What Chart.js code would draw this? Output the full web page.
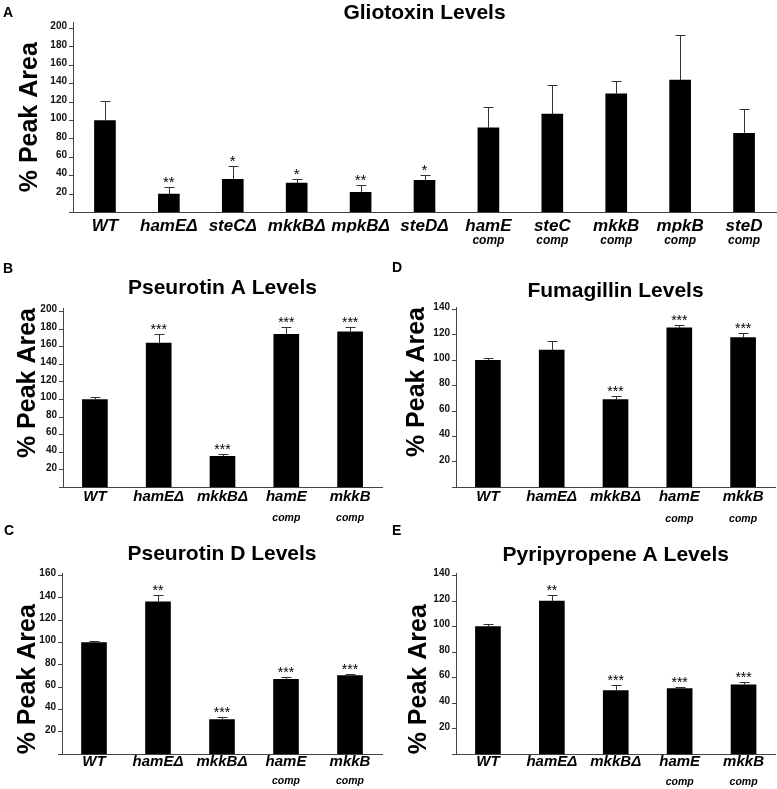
<!DOCTYPE html>
<html>
<head>
<meta charset="utf-8">
<script src="https://cdn.jsdelivr.net/npm/chart.js@4.4.0/dist/chart.umd.min.js"></script>
<style>
  body { margin: 0; background: #fff; width: 777px; height: 789px; position: relative; overflow: hidden; }
  .panel { position: absolute; }
  .tag { position: absolute; font: bold 14px/14px "Liberation Sans", Arial, sans-serif; color: #000; }
</style>
</head>
<body>
<div class="panel" style="left:0;top:0;width:777px;height:250px"><canvas id="chartA"></canvas></div>
<div class="panel" style="left:0;top:250px;width:390px;height:280px"><canvas id="chartB"></canvas></div>
<div class="panel" style="left:390px;top:250px;width:387px;height:280px"><canvas id="chartD"></canvas></div>
<div class="panel" style="left:0;top:520px;width:390px;height:269px"><canvas id="chartC"></canvas></div>
<div class="panel" style="left:390px;top:520px;width:387px;height:269px"><canvas id="chartE"></canvas></div>
<div class="tag" style="left:3px;top:5px">A</div>
<div class="tag" style="left:3px;top:261px">B</div>
<div class="tag" style="left:392px;top:260px">D</div>
<div class="tag" style="left:4px;top:523px">C</div>
<div class="tag" style="left:392px;top:523px">E</div>
<script>
// ---------------- données ----------------
const gliotoxinLabels = ['WT', 'hamEΔ', 'steCΔ', 'mkkBΔ', 'mpkBΔ', 'steDΔ', 'hamE', 'steC', 'mkkB', 'mpkB', 'steD']
const gliotoxinSub = ['', '', '', '', '', '', 'comp', 'comp', 'comp', 'comp', 'comp']
const gliotoxinValues = [100, 20, 36, 32, 22, 35, 92, 107, 129, 144, 86]
const gliotoxinErrors = [21, 8, 15, 4, 8, 6, 23, 32, 14, 49, 26]
const gliotoxinStars = ['', '**', '*', '*', '**', '*', '', '', '', '', '']

const strainLabels = ['WT', 'hamEΔ', 'mkkBΔ', 'hamE', 'mkkB']
const strainSub = ['', '', '', 'comp', 'comp']

const pseurotinAValues = [100, 164, 35.5, 174, 177]
const pseurotinAErrors = [3, 10, 2.7, 8, 5]
const pseurotinAStars = ['', '***', '***', '***', '***']

const fumagillinValues = [100, 108, 69, 125.5, 118]
const fumagillinErrors = [1.5, 7, 3, 2.5, 3.5]
const fumagillinStars = ['', '', '***', '***', '***']

const pseurotinDValues = [100, 136.5, 31, 67, 70.5]
const pseurotinDErrors = [1.8, 6, 2.3, 1.8, 1.8]
const pseurotinDStars = ['', '**', '***', '***', '***']

const pyripyropeneValues = [100, 120, 50, 51.5, 54.5]
const pyripyropeneErrors = [2.4, 4.5, 4.3, 1.1, 2.2]
const pyripyropeneStars = ['', '**', '***', '***', '***']

const FONT = '"Liberation Sans", Arial, Helvetica, sans-serif'
const AXIS_COLOR = '#444'
Chart.defaults.font.family = FONT
Chart.defaults.color = '#000'

// barres d'erreur (côté haut seulement) + astérisques de significativité
const errorBars = {
  id: 'errorBars',
  afterDatasetsDraw(chart, args, opts) {
    const ctx = chart.ctx
    const yScale = chart.scales.y
    const meta = chart.getDatasetMeta(0)
    const values = chart.data.datasets[0].data
    ctx.save()
    ctx.strokeStyle = '#333'
    ctx.lineWidth = 1
    ctx.fillStyle = '#000'
    ctx.font = `${opts.starSize}px ${FONT}`
    ctx.textAlign = 'center'
    ctx.textBaseline = 'alphabetic'
    meta.data.forEach((bar, i) => {
      const x = Math.round(bar.x) + 0.5
      const top = Math.round(yScale.getPixelForValue(values[i] + opts.errors[i])) + 0.5
      ctx.beginPath()
      ctx.moveTo(x, bar.y)
      ctx.lineTo(x, top)
      ctx.moveTo(x - opts.cap, top)
      ctx.lineTo(x + opts.cap, top)
      ctx.stroke()
      if (opts.stars[i]) ctx.fillText(opts.stars[i], bar.x, top - 1)
    })
    ctx.restore()
  }
}

function makeChart(id, spec) {
  const g = spec.geo
  return new Chart(document.getElementById(id), {
    type: 'bar',
    data: {
      labels: spec.labels,
      datasets: [{ data: spec.values, backgroundColor: '#000', barThickness: g.bar }]
    },
    options: {
      responsive: true,
      maintainAspectRatio: false,
      animation: false,
      layout: { padding: { top: g.padTop, left: 0, right: g.padRight, bottom: 0 } },
      plugins: {
        legend: { display: false },
        tooltip: { enabled: false },
        title: {
          display: true,
          text: spec.title,
          fullSize: false,
          color: '#000',
          font: { size: 21, weight: 'bold', lineHeight: 1 },
          padding: { top: 0, bottom: g.titleGap }
        },
        errorBars: { errors: spec.errors, stars: spec.stars, cap: 5, starSize: g.star }
      },
      scales: {
        x: {
          type: 'category',
          offset: true,
          grid: { display: false, drawTicks: false },
          border: { display: true, color: AXIS_COLOR, width: 1 },
          ticks: {
            color: '#000',
            padding: g.labelPad,
            maxRotation: 0,
            autoSkip: false,
            font: { size: g.labelSize, style: 'italic', weight: 'bold', lineHeight: 1 }
          },
          afterFit: s => { s.height = g.labelBox }
        },
        x2: {
          type: 'category',
          axis: 'x',
          position: 'bottom',
          labels: spec.sub,
          offset: true,
          grid: { display: false, drawTicks: false },
          border: { display: false },
          ticks: {
            color: '#000',
            padding: g.subPad,
            maxRotation: 0,
            autoSkip: false,
            font: { size: g.subSize, style: 'italic', weight: 'bold', lineHeight: 1 }
          },
          afterFit: s => { s.height = g.subBox }
        },
        y: {
          min: 0,
          max: spec.max,
          border: { display: true, color: AXIS_COLOR, width: 1 },
          grid: { display: true, drawOnChartArea: false, drawTicks: true, tickLength: 4, color: AXIS_COLOR },
          ticks: {
            stepSize: 20,
            includeBounds: false,
            padding: 2,
            labelOffset: -2,
            color: '#111',
            font: { size: 10, weight: 'bold' },
            callback: v => (v === 0 ? '' : v)
          },
          title: {
            display: true,
            text: '% Peak Area',
            align: g.yAlign,
            color: '#000',
            font: { size: 25, weight: 'bold', lineHeight: 1 },
            padding: { top: g.yTitlePad, bottom: 0 }
          },
          afterFit: s => { s.width = g.yWidth }
        }
      }
    },
    plugins: [errorBars]
  })
}

document.addEventListener('DOMContentLoaded', function () {
  makeChart('chartA', {
    title: 'Gliotoxin Levels', labels: gliotoxinLabels, sub: gliotoxinSub,
    values: gliotoxinValues, errors: gliotoxinErrors, stars: gliotoxinStars, max: 207,
    geo: { padTop: 3, padRight: 1, titleGap: -2, yWidth: 73, yTitlePad: 17.5, yAlign: 'center',
           labelBox: 20, labelPad: 5, labelSize: 17, subBox: 17.5, subPad: 2.5, subSize: 12, bar: 21, star: 15 }
  })
  makeChart('chartB', {
    title: 'Pseurotin A Levels', labels: strainLabels, sub: strainSub,
    values: pseurotinAValues, errors: pseurotinAErrors, stars: pseurotinAStars, max: 204,
    geo: { padTop: 27.5, padRight: 8, titleGap: 9.5, yWidth: 63, yTitlePad: 15.5, yAlign: 'end',
           labelBox: 20, labelPad: 2, labelSize: 15, subBox: 22.5, subPad: 5.75, subSize: 10.5, bar: 25, star: 14 }
  })
  makeChart('chartD', {
    title: 'Fumagillin Levels', labels: strainLabels, sub: strainSub,
    values: fumagillinValues, errors: fumagillinErrors, stars: fumagillinStars, max: 142,
    geo: { padTop: 30.5, padRight: 2, titleGap: 5.5, yWidth: 66, yTitlePad: 15, yAlign: 'end',
           labelBox: 20, labelPad: 2.5, labelSize: 15, subBox: 22.7, subPad: 6.4, subSize: 10.5, bar: 25, star: 14 }
  })
  makeChart('chartC', {
    title: 'Pseurotin D Levels', labels: strainLabels, sub: strainSub,
    values: pseurotinDValues, errors: pseurotinDErrors, stars: pseurotinDStars, max: 162,
    geo: { padTop: 23.5, padRight: 8, titleGap: 8.8, yWidth: 62, yTitlePad: 15.5, yAlign: 'start',
           labelBox: 17, labelPad: 0, labelSize: 15, subBox: 17.7, subPad: 4.5, subSize: 10.5, bar: 25, star: 14 }
  })
  makeChart('chartE', {
    title: 'Pyripyropene A Levels', labels: strainLabels, sub: strainSub,
    values: pyripyropeneValues, errors: pyripyropeneErrors, stars: pyripyropeneStars, max: 141.8,
    geo: { padTop: 24.5, padRight: 1.5, titleGap: 7.8, yWidth: 66, yTitlePad: 17, yAlign: 'start',
           labelBox: 17, labelPad: 0, labelSize: 15, subBox: 17.7, subPad: 5.4, subSize: 10.5, bar: 25, star: 14 }
  })
})
</script>
</body>
</html>
